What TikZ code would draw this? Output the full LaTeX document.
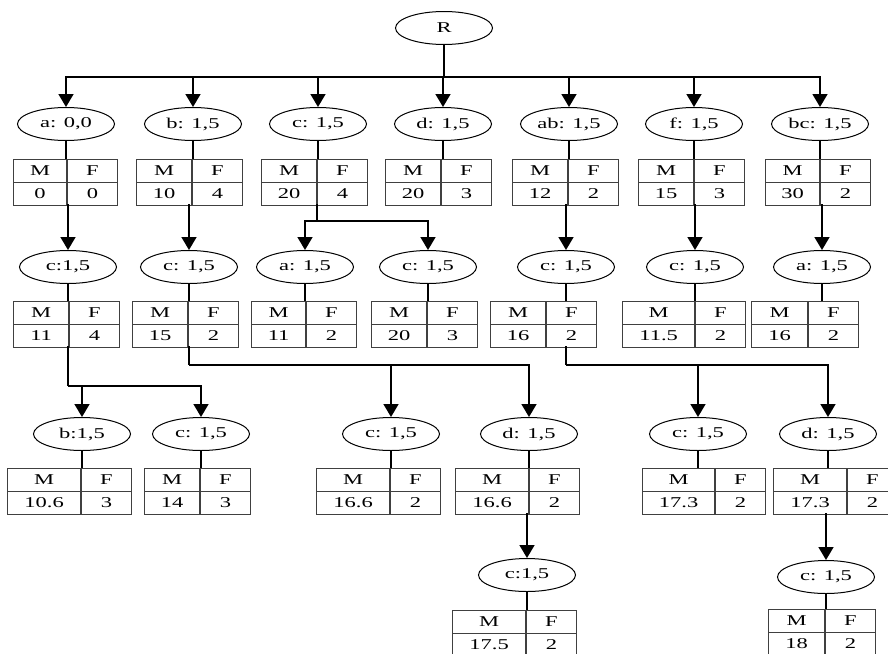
\documentclass[tikz,border=0pt]{standalone}
\usepackage{fontspec}
\setmainfont[FakeStretch=1.5]{Liberation Serif}
\usetikzlibrary{shapes.geometric, arrows.meta}

\newcommand{\mftable}[6]{%
  \coordinate (#1) at ({#2},{#3});
  \node[cell, minimum width=#4, anchor=north east] (#1-m) at (#1) {M};
  \node[cell, minimum width=50pt, anchor=north west] (#1-f) at (#1) {F};
  \node[cell, minimum width=#4, anchor=north] (#1-mv) at (#1-m.south) {#5};
  \node[cell, minimum width=50pt, anchor=north] (#1-fv) at (#1-f.south) {#6};
  \coordinate (#1-b) at ({#2},{#3+45});
}

\begin{document}
\begin{tikzpicture}[x=1pt, y=-1pt,
    font=\fontsize{15}{18}\selectfont,
    oval/.style={ellipse, draw, line width=1pt, minimum width=97pt, minimum height=33pt, inner sep=0pt},
    cell/.style={draw=black!75, line width=0.8pt, minimum height=22.5pt, inner sep=0pt},
    line/.style={line width=1.6pt},
    arr/.style={line width=1.6pt, -{Triangle[length=13pt, width=15pt]}}
  ]
  \useasboundingbox (0,0) rectangle (888,653);

  \node[oval] (r) at (444,28) {R};

  \node[oval] (a1) at (66,124) {a: 0,0};
  \node[oval] (b1) at (193,124) {b: 1,5};
  \node[oval] (c1) at (318,124) {c: 1,5};
  \node[oval] (d1) at (443,124) {d: 1,5};
  \node[oval] (ab1) at (569,124) {ab: 1,5};
  \node[oval] (f1) at (694,124) {f: 1,5};
  \node[oval] (bc1) at (820,124) {bc: 1,5};

  \mftable{t-a1}{67}{159}{53pt}{0}{0}
  \mftable{t-b1}{192}{159}{55pt}{10}{4}
  \mftable{t-c1}{317}{159}{55pt}{20}{4}
  \mftable{t-d1}{441}{159}{55pt}{20}{3}
  \mftable{t-ab1}{568}{159}{55pt}{12}{2}
  \mftable{t-f1}{694}{159}{55pt}{15}{3}
  \mftable{t-bc1}{820}{159}{54pt}{30}{2}

  \node[oval] (aa2) at (68,267) {c:1,5};
  \node[oval] (b2) at (189,267) {c: 1,5};
  \node[oval] (ca2) at (305,267) {a: 1,5};
  \node[oval] (cc2) at (428,267) {c: 1,5};
  \node[oval] (ab2) at (566,267) {c: 1,5};
  \node[oval] (f2) at (695,267) {c: 1,5};
  \node[oval] (bc2) at (822,267) {a: 1,5};

  \mftable{t-aa2}{69}{301}{55pt}{11}{4}
  \mftable{t-b2}{188}{301}{55pt}{15}{2}
  \mftable{t-ca2}{306}{301}{54pt}{11}{2}
  \mftable{t-cc2}{427}{301}{55pt}{20}{3}
  \mftable{t-ab2}{546}{301}{55pt}{16}{2}
  \mftable{t-f2}{695}{301}{72pt}{11.5}{2}
  \mftable{t-bc2}{808}{301}{56pt}{16}{2}

  \node[oval] (b3) at (82,434) {b:1,5};
  \node[oval] (c3) at (201,434) {c: 1,5};
  \node[oval] (cb3) at (391,434) {c: 1,5};
  \node[oval] (d3) at (529,434) {d: 1,5};
  \node[oval] (cc3) at (698,434) {c: 1,5};
  \node[oval] (d3b) at (828,434) {d: 1,5};

  \mftable{t-b3}{81}{468}{73pt}{10.6}{3}
  \mftable{t-c3}{200}{468}{55pt}{14}{3}
  \mftable{t-cb3}{390}{468}{73pt}{16.6}{2}
  \mftable{t-d3}{529}{468}{73pt}{16.6}{2}
  \mftable{t-cc3}{715}{468}{72pt}{17.3}{2}
  \mftable{t-d3b}{847}{468}{73pt}{17.3}{2}

  \node[oval] (c4) at (527,575) {c:1,5};
  \node[oval] (c4b) at (826,577) {c: 1,5};

  \mftable{t-c4}{526}{610}{73pt}{17.5}{2}
  \mftable{t-c4b}{825}{609}{56pt}{18}{2}

  \draw[line] (r.south) -- ++(0,32) coordinate (bus1);
  \foreach \n in {a1,b1,c1,d1,ab1,f1,bc1}
    \draw[arr] (bus1) -| (\n.north);

  \foreach \n in {a1,b1,c1,d1,ab1,f1,bc1,aa2,b2,ca2,cc2,ab2,f2,bc2,b3,c3,cb3,d3,cc3,d3b,c4,c4b}
    \draw[line] (\n.south) -- (\n.south |- t-\n);

  \draw[arr] (aa2 |- t-a1-b) -- (aa2.north);
  \draw[arr] (b2 |- t-b1-b) -- (b2.north);
  \draw[line] (t-c1-b) -- ++(0,17) coordinate (bus2c);
  \draw[arr] (bus2c) -| (ca2.north);
  \draw[arr] (bus2c) -| (cc2.north);
  \draw[arr] (ab2 |- t-ab1-b) -- (ab2.north);
  \draw[arr] (f2 |- t-f1-b) -- (f2.north);
  \draw[arr] (bc2 |- t-bc1-b) -- (bc2.north);

  \draw[line] (aa2 |- t-aa2-b) -- ++(0,40) coordinate (bus3a);
  \draw[arr] (bus3a) -| (b3.north);
  \draw[arr] (bus3a) -| (c3.north);
  \draw[line] (b2 |- t-b2-b) -- ++(0,19) coordinate (bus3b);
  \draw[arr] (bus3b) -| (cb3.north);
  \draw[arr] (bus3b) -| (d3.north);
  \draw[line] (ab2 |- t-ab2-b) -- ++(0,19) coordinate (bus3c);
  \draw[arr] (bus3c) -| (cc3.north);
  \draw[arr] (bus3c) -| (d3b.north);

  \draw[arr] (c4 |- t-d3-b) -- (c4.north);
  \draw[arr] (c4b |- t-d3b-b) -- (c4b.north);
\end{tikzpicture}
\end{document}
